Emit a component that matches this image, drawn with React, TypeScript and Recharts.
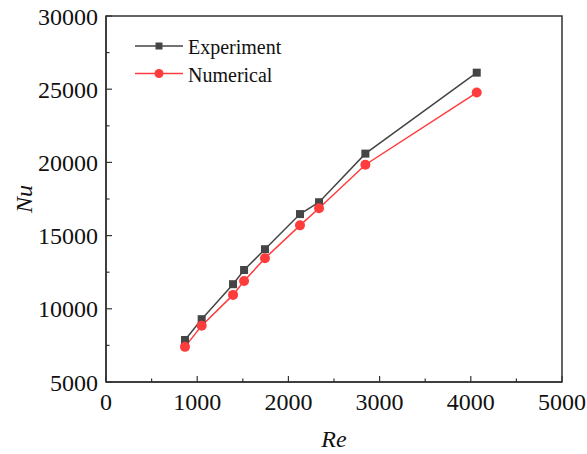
import React from 'react';
import { LineChart, Line, XAxis, YAxis, ReferenceArea } from 'recharts';

const reynolds = [866, 1049, 1393, 1514, 1743, 2127, 2336, 2844, 4065];
const experiment = [7870, 9290, 11680, 12650, 14070, 16470, 17280, 20600, 26130];
const numerical = [7400, 8850, 10950, 11900, 13450, 15700, 16870, 19840, 24770];
const xTicks = [0, 500, 1000, 1500, 2000, 2500, 3000, 3500, 4000, 4500, 5000];
const yTicks = [5000, 7500, 10000, 12500, 15000, 17500, 20000, 22500, 25000, 27500, 30000];
const seriesNames = ['Experiment', 'Numerical'];

const data = reynolds.map((re, i) => ({ re, exp: experiment[i], num: numerical[i] }));

const FONT = "'Liberation Serif'";
const EXP_COLOR = '#454545';
const NUM_COLOR = '#ff3c3c';
const AXIS = '#333333';

const XTick = (props: any) => {
  const { x, y, payload } = props;
  const major = payload.value % 1000 === 0;
  return (
    <g>
      <line x1={x} y1={y} x2={x} y2={y - (major ? 6 : 3.5)} stroke={AXIS} strokeWidth={1.2} />
      {major && (
        <text x={x} y={y + 28} textAnchor="middle" fontFamily={FONT} fontSize={24} fill="#111">
          {payload.value}
        </text>
      )}
    </g>
  );
};

const YTick = (props: any) => {
  const { x, y, payload } = props;
  const major = payload.value % 5000 === 0;
  return (
    <g>
      <line x1={x} y1={y} x2={x + (major ? 6 : 3.5)} y2={y} stroke={AXIS} strokeWidth={1.2} />
      {major && (
        <text x={x - 8} y={y + 8.5} textAnchor="end" fontFamily={FONT} fontSize={24} fill="#111">
          {payload.value}
        </text>
      )}
    </g>
  );
};

const SquareDot = (props: any) => {
  const { cx, cy } = props;
  if (cx == null || cy == null) return null;
  return <rect x={cx - 4} y={cy - 4} width={8} height={8} fill={EXP_COLOR} />;
};

const CircleDot = (props: any) => {
  const { cx, cy } = props;
  if (cx == null || cy == null) return null;
  return <circle cx={cx} cy={cy} r={5} fill={NUM_COLOR} />;
};

const LegendBox = () => (
  <svg width={170} height={60} style={{ position: 'absolute', left: 127, top: 30, overflow: 'visible' }}>
    <line x1={0} y1={8} x2={48} y2={8} stroke={EXP_COLOR} strokeWidth={1.5} />
    <rect x={20.5} y={4.5} width={7} height={7} fill={EXP_COLOR} />
    <text x={53} y={16} fontFamily={FONT} fontSize={20} fill="#111">{seriesNames[0]}</text>
    <line x1={0} y1={35.5} x2={48} y2={35.5} stroke={NUM_COLOR} strokeWidth={1.5} />
    <circle cx={24} cy={35.5} r={4.5} fill={NUM_COLOR} />
    <text x={53} y={43.5} fontFamily={FONT} fontSize={20} fill="#111">{seriesNames[1]}</text>
  </svg>
);

export default function App() {
  return (
    <div style={{ position: 'absolute', left: 8, top: 8, width: 579, height: 446 }}>
      <LineChart
        width={579}
        height={446}
        data={data}
        margin={{ top: 8, right: 25, bottom: 12, left: 0 }}
        style={{ overflow: 'visible' }}
      >
        <XAxis
          dataKey="re"
          type="number"
          domain={[0, 5000]}
          ticks={xTicks}
          interval={0}
          tickSize={0}
          tickMargin={0}
          tick={<XTick />}
          axisLine={{ stroke: AXIS, strokeWidth: 1.5 }}
          height={60}
          label={{
            content: (p: any) => {
              const vb = p.viewBox;
              return (
                <text x={vb.x + vb.width / 2} y={vb.y + 65} textAnchor="middle" fontFamily={FONT} fontSize={24} fontStyle="italic" fill="#111">
                  Re
                </text>
              );
            },
          }}
        />
        <YAxis
          type="number"
          domain={[5000, 30000]}
          ticks={yTicks}
          interval={0}
          tickSize={0}
          tickMargin={0}
          tick={<YTick />}
          axisLine={{ stroke: AXIS, strokeWidth: 1.5 }}
          width={98}
          label={{
            content: (p: any) => {
              const vb = p.viewBox;
              const cy = vb.y + vb.height / 2;
              return (
                <text x={16} y={cy} transform={`rotate(-90 16 ${cy})`} textAnchor="middle" dominantBaseline="central" fontFamily={FONT} fontSize={24} fontStyle="italic" fill="#111">
                  Nu
                </text>
              );
            },
          }}
        />
        <ReferenceArea x1={0} x2={5000} y1={5000} y2={30000} fill="none" stroke={AXIS} strokeWidth={1.5} ifOverflow="visible" />
        <Line
          type="linear"
          dataKey="exp"
          stroke={EXP_COLOR}
          strokeWidth={1.5}
          dot={<SquareDot />}
          activeDot={false}
          isAnimationActive={false}
        />
        <Line
          type="linear"
          dataKey="num"
          stroke={NUM_COLOR}
          strokeWidth={1.5}
          dot={<CircleDot />}
          activeDot={false}
          isAnimationActive={false}
        />
      </LineChart>
      <LegendBox />
    </div>
  );
}
